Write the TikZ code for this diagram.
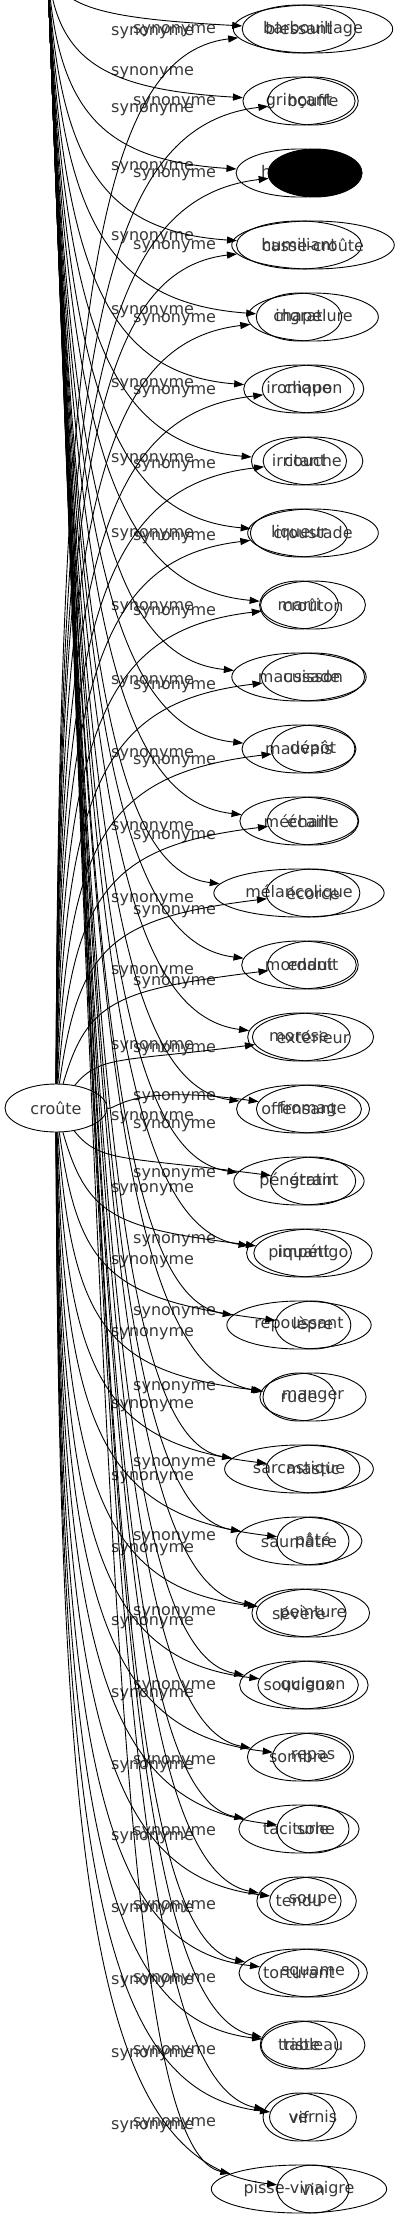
\documentclass[tikz,border=0pt]{standalone}
\usepackage{fontspec}
\setmainfont{DejaVu Sans}
\usetikzlibrary{arrows.meta,shapes.geometric}
\newcommand\wfont{\fontsize{16pt}{19pt}\selectfont}
\newcommand\wrow[3]{%
  \node[word] (b#1) at (299,{29+72*#1}) {#2};
  \node[word] (a#1) at (313,{29+72*#1}) {#3};}
\begin{document}
\begin{tikzpicture}[x=1pt,y=-1pt,
  word/.style={ellipse,draw=black,line width=0.9pt,minimum width=72pt,minimum height=48pt,
               inner xsep=6.5pt,inner ysep=0pt,font=\wfont,text=black!78},
  syn/.style={anchor=west,inner sep=0pt,font=\wfont,text=black!78},
  edge/.style={draw=black,line width=0.9pt,-{Triangle[length=10pt,width=7pt]}}]
\useasboundingbox (0,0) rectangle (403,2219);
\clip (0,0) rectangle (403,2219);
% source nodes
\node[word,minimum width=102pt] (src) at (56,1108) {croûte};
\coordinate (srcB) at (47,-45);
% target nodes
\wrow{0}{blessant}{barbouillage}
\wrow{1}{grinçant}{bouffe}
\node[word] (b2) at (299,173) {hargneux};
\node[word,fill=black,minimum width=94pt] (a2) at (315,173) {};
\wrow{3}{humiliant}{casse-croûte}
\wrow{4}{ingrat}{chapelure}
\wrow{5}{ironique}{chapon}
\wrow{6}{irritant}{couche}
\wrow{7}{liqueur}{croustade}
\wrow{8}{marri}{croûton}
\wrow{9}{maussade}{cuisson}
\wrow{10}{mauvais}{dépôt}
\wrow{11}{méchant}{écaille}
\wrow{12}{mélancolique}{écorce}
\wrow{13}{mordant}{enduit}
\wrow{14}{morose}{extérieur}
\wrow{15}{offensant}{fromage}
\wrow{16}{pénétrant}{gratin}
\wrow{17}{piquant}{impétigo}
\wrow{18}{repoussant}{lèpre}
\wrow{19}{rude}{manger}
\wrow{20}{sarcastique}{mastic}
\wrow{21}{saumâtre}{pâté}
\wrow{22}{sévère}{peinture}
\wrow{23}{soucieux}{quignon}
\wrow{24}{sombre}{repas}
\wrow{25}{taciturne}{sole}
\wrow{26}{tendu}{soupe}
\wrow{27}{torturant}{squame}
\wrow{28}{triste}{tableau}
\wrow{29}{vif}{vernis}
\wrow{30}{pisse-vinaigre}{vin}
% edge labels
\foreach \yl [count=\k from 0] in {31,103,175,247,320,392,466,538,613,687,762,837,912,983,1050,1098,1126,1175,1241,1313,1388,1464,1538,1613,1687,1762,1833,1907,1980,2052,2124}
  \node[syn] (la\k) at (133,\yl) {synonyme};
\foreach \yl [count=\k from 0] in {33,73,110,168,238,312,385,460,535,608,682,755,828,900,972,1047,1118,1190,1262,1334,1406,1478,1550,1623,1695,1767,1838,1910,1982,2055,2127}
  \node[syn] (lb\k) at (111,\yl) {synonyme};
% edges from croûte
\foreach \i in {0,...,30}{
  \pgfmathsetmacro\yy{29+72*\i}
  \pgfmathsetmacro\D{abs(1108-\yy)}
  \pgfmathsetmacro\s{sign(\yy-1108)}
  \pgfmathsetmacro\cax{58+60*exp(-\D/200)}
  \pgfmathsetmacro\cay{\yy-\s*0.25*\D}
  \pgfmathsetmacro\cbx{100+30*exp(-\D/200)}
  \pgfmathsetmacro\cby{\yy-\s*25}
  \draw[edge] (src) .. controls (\cax,\cay) and (\cbx,\cby) .. (a\i);
}
% edges from the upper source
\foreach \i in {0,...,30}{
  \pgfmathsetmacro\yy{29+72*\i}
  \pgfmathsetmacro\DB{\yy+45}
  \pgfmathsetmacro\f{\DB/2233}
  \pgfmathsetmacro\cax{48+60*\f}
  \pgfmathsetmacro\cay{\yy-0.3*\DB}
  \pgfmathsetmacro\cbx{95+25*\f}
  \pgfmathsetmacro\cby{\yy-10-30*\f}
  \draw[edge] (srcB) .. controls (\cax,\cay) and (\cbx,\cby) .. (b\i);
}
\end{tikzpicture}
\end{document}
